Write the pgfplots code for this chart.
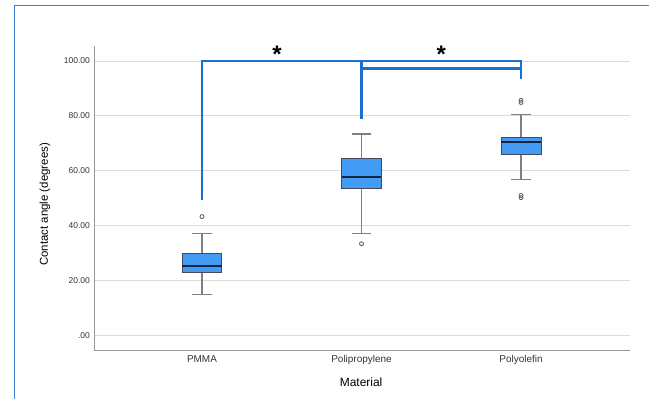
\documentclass[border=0pt]{standalone}
\usepackage{pgfplots}
\pgfplotsset{compat=1.18}
\usepackage{fontspec}
\setmainfont{Liberation Sans}
\definecolor{boxfill}{RGB}{66,156,245}
\definecolor{boxedge}{RGB}{70,74,90}
\definecolor{whisk}{RGB}{128,128,128}
\definecolor{medcol}{RGB}{20,36,64}
\definecolor{brk}{RGB}{28,110,208}
\definecolor{frame}{RGB}{58,128,214}
\definecolor{gridc}{RGB}{220,220,220}
\definecolor{axc}{RGB}{150,150,150}
\pgfplotsset{
  whk/.style={draw=whisk, line width=1.1bp, mark=none},
  bx/.style={draw=boxedge, fill=boxfill, line width=0.9bp, mark=none},
  md/.style={draw=medcol, line width=2bp, mark=none},
}
\begin{document}
\begin{tikzpicture}
\useasboundingbox (0,0) rectangle (649bp,399bp);
\draw[frame, line width=1.3bp] (14.7bp,-2bp) -- (14.7bp,393.7bp) -- (652bp,393.7bp);
\begin{axis}[
  at={(94.3bp,48.3bp)}, anchor=south west,
  scale only axis, width=535.7bp, height=304.7bp,
  xmin=0.325, xmax=3.683, ymin=-5.6, ymax=105.5,
  axis x line*=bottom, axis y line*=left,
  axis line style={draw=axc, line width=0.9bp},
  x axis line style={-}, y axis line style={-},
  xtick={1,2,3}, xticklabels={PMMA,Polipropylene,Polyolefin},
  ytick={0,20,40,60,80,100},
  yticklabels={.00,20.00,40.00,60.00,80.00,100.00},
  major tick length=0pt,
  ymajorgrids, grid style={draw=gridc, line width=0.9bp},
  tick label style={text=black!80},
  yticklabel style={font=\fontsize{8.5}{10}\selectfont, xshift=-1bp},
  xticklabel style={font=\fontsize{10}{12}\selectfont, yshift=-1bp},
  xlabel={Material}, ylabel={Contact angle (degrees)},
  xlabel style={font=\fontsize{12}{14}\selectfont, at={(axis description cs:0.498,-0.103)}, anchor=center},
  ylabel style={font=\fontsize{11.5}{14}\selectfont, at={(axis description cs:-0.092,0.48)}, anchor=center, rotate=0},
  clip=false,
]
% PMMA: lw 15.0, q1 23.0, med 25.4, q3 29.7, uw 37.0
\addplot[whk] coordinates {(1,29.7) (1,37.0)};
\addplot[whk] coordinates {(0.94,37.0) (1.06,37.0)};
\addplot[whk] coordinates {(1,23.0) (1,15.0)};
\addplot[whk] coordinates {(0.94,15.0) (1.06,15.0)};
\addplot[bx] coordinates {(0.875,23.0) (1.125,23.0) (1.125,29.7) (0.875,29.7)} -- cycle;
\addplot[md] coordinates {(0.877,25.4) (1.123,25.4)};
% Polipropylene: lw 37.1, q1 53.6, med 57.9, q3 64.6, uw 73.4
\addplot[whk] coordinates {(2,64.6) (2,73.4)};
\addplot[whk] coordinates {(1.94,73.4) (2.06,73.4)};
\addplot[whk] coordinates {(2,53.6) (2,37.1)};
\addplot[whk] coordinates {(1.94,37.1) (2.06,37.1)};
\addplot[bx] coordinates {(1.875,53.6) (2.125,53.6) (2.125,64.6) (1.875,64.6)} -- cycle;
\addplot[md] coordinates {(1.877,57.9) (2.123,57.9)};
% Polyolefin: lw 56.9, q1 65.9, med 70.4, q3 72.3, uw 80.6
\addplot[whk] coordinates {(3,72.3) (3,80.6)};
\addplot[whk] coordinates {(2.94,80.6) (3.06,80.6)};
\addplot[whk] coordinates {(3,65.9) (3,56.9)};
\addplot[whk] coordinates {(2.94,56.9) (3.06,56.9)};
\addplot[bx] coordinates {(2.875,65.9) (3.125,65.9) (3.125,72.3) (2.875,72.3)} -- cycle;
\addplot[md] coordinates {(2.877,70.4) (3.123,70.4)};
% outliers
\addplot[only marks, mark=o, mark size=2bp, mark options={draw=black!65, fill=white, line width=0.8bp}]
  coordinates {(1,43.3) (2,33.4) (3,84.9) (3,85.7) (3,50.2) (3,51.0)};
% significance brackets
\addplot[brk, line width=2.3bp, mark=none] coordinates {(1,49.4) (1,100.1) (3,100.1) (3,93.4)};
\addplot[brk, line width=2.3bp, mark=none] coordinates {(2,78.9) (2,100.1)};
\addplot[brk, line width=2.3bp, mark=none] coordinates {(2,97.3) (3,97.3)};
\node[font=\fontsize{24}{24}\bfseries\selectfont, anchor=base, inner sep=0pt] at (axis cs:1.47,99.6) {*};
\node[font=\fontsize{24}{24}\bfseries\selectfont, anchor=base, inner sep=0pt] at (axis cs:2.5,99.6) {*};
\end{axis}
\end{tikzpicture}
\end{document}
